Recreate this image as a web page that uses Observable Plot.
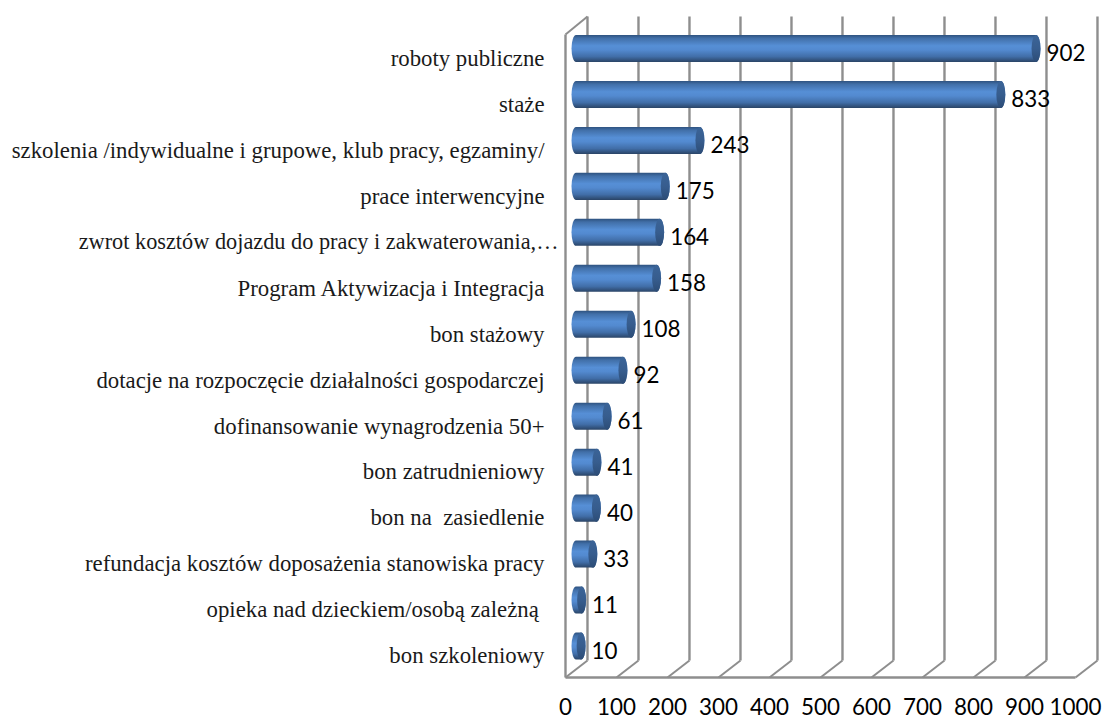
<!DOCTYPE html>
<html><head><meta charset="utf-8">
<script src="https://cdn.jsdelivr.net/npm/d3@7"></script>
<script src="https://cdn.jsdelivr.net/npm/@observablehq/plot@0.6"></script>
<style>html,body{margin:0;padding:0;background:#fff;overflow:hidden}svg{display:block}</style>
</head><body><script>
const categories = ["roboty publiczne","staże","szkolenia /indywidualne i grupowe, klub pracy, egzaminy/","prace interwencyjne","zwrot kosztów dojazdu do pracy i zakwaterowania,…","Program Aktywizacja i Integracja","bon stażowy","dotacje na rozpoczęcie działalności gospodarczej","dofinansowanie wynagrodzenia 50+","bon zatrudnieniowy","bon na  zasiedlenie","refundacja kosztów doposażenia stanowiska pracy","opieka nad dzieckiem/osobą zależną ","bon szkoleniowy"];
const values = [902,833,243,175,164,158,108,92,61,41,40,33,11,10];
const xTicks = [0,100,200,300,400,500,600,700,800,900,1000];

const rows = categories.map((c,i)=>({c,i,v:values[i]}));
const depthX = 43.1, halfBar = 0.294, capX = 8.8;
const yTop = -0.707, yTopFront = -0.316, yBack = 13.304, yFloor = 13.674;
const gridColor = "#8e8e8e";
const labelFont = {fontFamily:"Liberation Serif",fill:"#1a1a1a",textAnchor:"end",dy:9.5};
const numFont = {fontFamily:"Lato",fontSize:22.4,fill:"#000"};

const defs = () => {
  const s = d3.create("svg:defs");
  const g = s.append("linearGradient").attr("id","body").attr("x1",0).attr("x2",0).attr("y1",0).attr("y2",1);
  [[0,"#2e527f"],[0.12,"#416fa8"],[0.4,"#568fd6"],[0.55,"#538ad0"],[0.8,"#416ea8"],[1,"#2a4466"]].forEach(([o,c])=>g.append("stop").attr("offset",o).attr("stop-color",c));
  const h = s.append("linearGradient").attr("id","cap").attr("x1",0).attr("x2",0).attr("y1",0).attr("y2",1);
  [[0,"#3b6498"],[0.5,"#375d8e"],[1,"#2c4c76"]].forEach(([o,c])=>h.append("stop").attr("offset",o).attr("stop-color",c));
  return s.node();
};

const chart = Plot.plot({
  width:1102, height:719, marginTop:0, marginLeft:0, marginRight:0, marginBottom:42,
  x:{domain:[0,1000],range:[565,1075],axis:null},
  y:{domain:[yTop,yFloor],range:[16,677],axis:null},
  style:{background:"#fff"},
  marks:[
    defs,
    Plot.link(xTicks,{x1:d=>d+depthX,x2:d=>d+depthX,y1:yTop,y2:yBack,stroke:gridColor,strokeWidth:2.4}),
    Plot.link(xTicks,{x1:d=>d,x2:d=>d+depthX,y1:yFloor,y2:yBack,stroke:gridColor,strokeWidth:2}),
    Plot.link([0],{x1:0,x2:1000,y1:yFloor,y2:yFloor,stroke:gridColor,strokeWidth:2.4}),
    Plot.link([0],{x1:0,x2:0,y1:yTopFront,y2:yFloor,stroke:gridColor,strokeWidth:2.4}),
    Plot.link([0],{x1:0,x2:depthX,y1:yTopFront,y2:yTop,stroke:gridColor,strokeWidth:2}),
    Plot.rect(rows,{x1:()=>-capX,x2:d=>d.v+capX,y1:d=>d.i-halfBar,y2:d=>d.i+halfBar,dx:11,rx:4.5,ry:13.5,fill:"url(#body)"}),
    Plot.rect(rows,{x1:d=>d.v-capX,x2:d=>d.v+capX,y1:d=>d.i-halfBar,y2:d=>d.i+halfBar,dx:11,rx:4.5,ry:13.5,fill:"url(#cap)"}),
    Plot.text(rows,{x:d=>d.v,y:"i",text:d=>String(d.v),dx:21,dy:5,textAnchor:"start",...numFont}),
    Plot.text(rows.filter(d=>d.i!==4),{x:0,y:"i",text:"c",dx:-21,fontSize:22.8,...labelFont}),
    Plot.text(rows.filter(d=>d.i===4),{x:0,y:"i",text:"c",dx:-7,fontSize:22.3,...labelFont}),
    Plot.axisX(xTicks,{anchor:"bottom",tickSize:0,tickPadding:22,tickFormat:d=>String(d),...numFont})
  ]
});
document.body.append(chart);
</script></body></html>
